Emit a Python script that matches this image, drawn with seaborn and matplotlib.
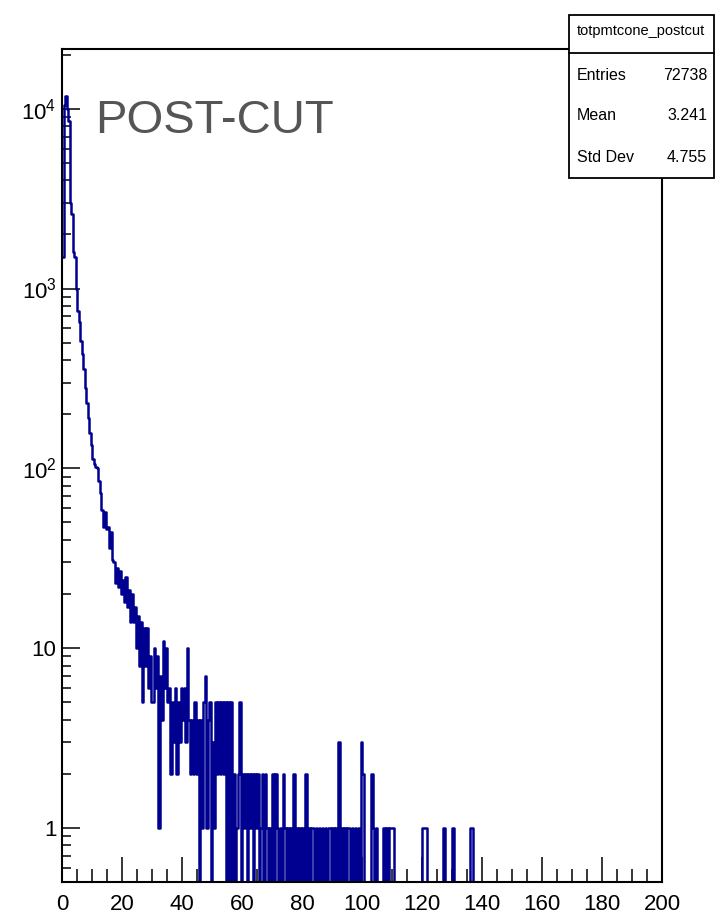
import numpy as np
import pandas as pd
import matplotlib
matplotlib.use("Agg")
import matplotlib.pyplot as plt
import seaborn as sns
from matplotlib.patches import Rectangle
from matplotlib.lines import Line2D
from matplotlib.ticker import FixedLocator, LogLocator, MultipleLocator, FuncFormatter, NullFormatter

# ---------------- data ----------------
hist_name = "totpmtcone_postcut"
panel_label = "POST-CUT"
stats_labels = ["Entries", "Mean", "Std Dev"]
stats_values = ["72738", "3.241", "4.755"]

BIN_WIDTH = 0.5
X_MIN, X_MAX = 0, 200

# counts per 0.5-wide bin, grouped by 10 units of x
counts_000_010 = [1500, 10500, 11800, 10000, 8500, 3000, 2600, 1600, 1500, 1000,
                  750, 650, 510, 430, 355, 280, 230, 190, 158, 135]
counts_010_020 = [112, 106, 102, 100, 85, 73, 59, 47, 57, 46,
                  47, 36, 44, 31, 30, 23, 28, 22, 27, 20]
counts_020_030 = [24, 18, 25, 17, 21, 14, 20, 14, 17, 10,
                  15, 8, 14, 5, 13, 8, 13, 6, 9, 5]
counts_030_040 = [5, 10, 6, 9, 1, 7, 4, 11, 6, 10,
                  5, 6, 2, 5, 3, 6, 2, 5, 3, 6]
counts_040_050 = [4, 6, 3, 10, 4, 2, 4, 2, 5, 2,
                  4, 0, 4, 1, 5, 7, 1, 4, 5, 0]
counts_050_060 = [3, 1, 5, 2, 5, 2, 5, 2, 5, 0,
                  5, 0, 5, 0, 2, 0, 1, 2, 5, 0]
counts_060_070 = [2, 1, 2, 0, 2, 1, 2, 0, 2, 1,
                  2, 0, 1, 2, 0, 2, 1, 0, 1, 0]
counts_070_080 = [2, 0, 2, 1, 0, 1, 0, 2, 1, 0,
                  1, 0, 1, 0, 2, 0, 1, 0, 1, 0]
counts_080_090 = [1, 0, 2, 0, 1, 0, 1, 1, 0, 1,
                  0, 1, 0, 1, 0, 1, 0, 1, 1, 0]
counts_090_100 = [1, 0, 1, 0, 3, 0, 1, 0, 1, 0,
                  1, 1, 0, 1, 0, 1, 0, 1, 0, 3]
counts_100_110 = [2, 0, 0, 0, 0, 0, 2, 1, 0, 1,
                  0, 0, 0, 0, 1, 0, 1, 0, 1, 1]
counts_110_120 = [1, 0, 0, 0, 0, 0, 0, 0, 0, 0,
                  0, 0, 0, 0, 0, 0, 0, 0, 0, 0]
counts_120_130 = [1, 1, 1, 0, 0, 0, 0, 0, 0, 0,
                  0, 0, 0, 0, 1, 0, 0, 0, 0, 0]
counts_130_140 = [1, 0, 0, 0, 0, 0, 0, 0, 0, 0,
                  0, 0, 1, 1, 0, 0, 0, 0, 0, 0]

x_tick_values = [0, 20, 40, 60, 80, 100, 120, 140, 160, 180, 200]
y_tick_values = [1, 10, 100, 1000, 10000]
y_tick_labels = ["1", "10", r"$10^{2}$", r"$10^{3}$", r"$10^{4}$"]
Y_MIN, Y_MAX = 0.5, 2.15e4

counts = np.concatenate([counts_000_010, counts_010_020, counts_020_030, counts_030_040,
                         counts_040_050, counts_050_060, counts_060_070, counts_070_080,
                         counts_080_090, counts_090_100, counts_100_110, counts_110_120,
                         counts_120_130, counts_130_140])
centers = X_MIN + BIN_WIDTH * (np.arange(len(counts)) + 0.5)
edges = np.arange(X_MIN, X_MAX + BIN_WIDTH / 2, BIN_WIDTH).tolist()
df = pd.DataFrame({"totpmtcone": centers, "n": counts})

# ---------------- style ----------------
sns.set_theme(style="white")
plt.rcParams['font.family'] = ['Liberation Sans', 'DejaVu Sans']
plt.rcParams['mathtext.fontset'] = 'custom'
plt.rcParams['mathtext.rm'] = 'Liberation Sans'
plt.rcParams['mathtext.it'] = 'Liberation Sans'
plt.rcParams['mathtext.bf'] = 'Liberation Sans'

W, H = 716, 919
fig = plt.figure(figsize=(W / 100, H / 100), dpi=100)
fig.patch.set_facecolor("white")
ax = fig.add_axes([62 / W, 1 - 882 / H, 600 / W, 833 / H])
ax.set_yscale("log")

sns.histplot(data=df, x="totpmtcone", weights="n", bins=edges, element="step",
             fill=False, color="#000090", linewidth=1.8, ax=ax)

ax.set_xlim(X_MIN, X_MAX)
ax.set_ylim(Y_MIN, Y_MAX)
ax.set_xlabel("")
ax.set_ylabel("")

for sp in ax.spines.values():
    sp.set_color("black")
    sp.set_linewidth(1.5)
    sp.set_visible(True)

ax.xaxis.set_major_locator(FixedLocator(x_tick_values))
ax.xaxis.set_minor_locator(MultipleLocator(5))
ax.set_xticklabels([str(v) for v in x_tick_values])
ax.yaxis.set_major_locator(FixedLocator(y_tick_values))
ax.yaxis.set_major_formatter(FuncFormatter(
    lambda v, p: y_tick_labels[y_tick_values.index(int(round(v)))] if int(round(v)) in y_tick_values else ""))
ax.yaxis.set_minor_locator(LogLocator(base=10, subs=np.arange(2, 10), numticks=50))
ax.yaxis.set_minor_formatter(NullFormatter())

ax.tick_params(axis="both", which="both", direction="in", top=False, right=False,
               bottom=True, left=True, colors="black", width=1.1, labelsize=16)
ax.tick_params(axis="x", which="major", length=18, pad=9)
ax.tick_params(axis="x", which="minor", length=9.5)
ax.tick_params(axis="y", which="major", length=13, pad=4)
ax.tick_params(axis="y", which="minor", length=6.5)

# panel label
fig.text(95 / W, 1 - 121 / H, panel_label, ha="left", va="center",
         fontsize=34, color="#555555")

# stats box
bx0, bx1, by0, by1 = 569, 714, 15, 178
fig.add_artist(Rectangle((bx0 / W, 1 - by1 / H), (bx1 - bx0) / W, (by1 - by0) / H,
                         transform=fig.transFigure, facecolor="white",
                         edgecolor="black", linewidth=1.3, zorder=5))
fig.add_artist(Line2D([bx0 / W, bx1 / W], [1 - 53 / H, 1 - 53 / H],
                      transform=fig.transFigure, color="black", linewidth=1.3, zorder=6))
fig.text(641 / W, 1 - 31 / H, hist_name, ha="center", va="center",
         fontsize=10.5, color="black", zorder=7)
row_y = [75, 116, 157]
for lab, val, yy in zip(stats_labels, stats_values, row_y):
    fig.text(577 / W, 1 - yy / H, lab, ha="left", va="center",
             fontsize=11.5, color="black", zorder=7)
    fig.text(707 / W, 1 - yy / H, val, ha="right", va="center",
             fontsize=11.5, color="black", zorder=7)

fig.savefig("out.png", dpi=100, facecolor="white")
